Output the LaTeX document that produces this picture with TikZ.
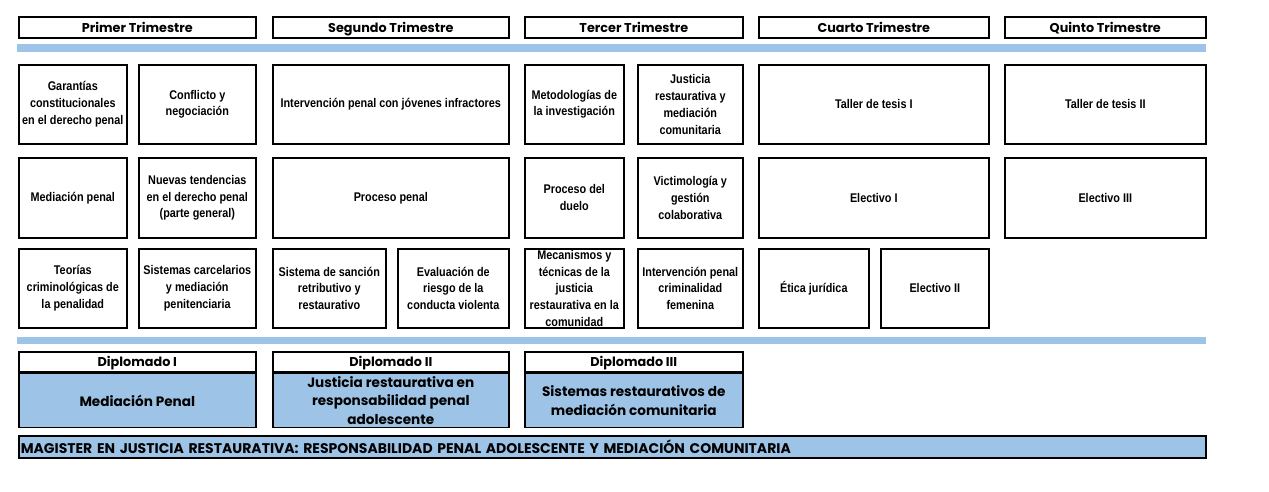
\documentclass[tikz,border=0pt]{standalone}
\usepackage{fontspec}
\setmainfont{Liberation Sans}
\newfontfamily\narrowfont[FakeStretch=0.86]{Liberation Sans}
\newfontfamily\gothicfont{Poppins}
\definecolor{barblue}{HTML}{9DC3E6}

\tikzset{
  curso/.style={draw,line width=1.6pt,anchor=north west,align=center,
    inner sep=0pt,font=\narrowfont\bfseries\fontsize{12.6}{16.8}\selectfont},
  trimestre/.style={curso,text height=9.5,text depth=0,
    font=\gothicfont\bfseries\fontsize{12.8}{14}\selectfont},
  diplotitulo/.style={trimestre,fill=white},
  diplocuerpo/.style={curso,fill=barblue,font=\gothicfont\bfseries\fontsize{13.6}{18.5}\selectfont},
  separador/.style={fill=barblue,draw=none},
}

\begin{document}
\begin{tikzpicture}[x=1pt,y=-1pt]
  \useasboundingbox[fill=white] (0,0) rectangle (1269,491);
  % trimestres
  \node[trimestre,minimum width=237,minimum height=21] (t1) at (18,16) {Primer Trimestre};
  \node[trimestre,minimum width=236,minimum height=21] (t2) at (272,16) {Segundo Trimestre};
  \node[trimestre,minimum width=218,minimum height=21] (t3) at (524,16) {Tercer Trimestre};
  \node[trimestre,minimum width=230,minimum height=21] (t4) at (758,16) {Cuarto Trimestre};
  \node[trimestre,minimum width=201,minimum height=21] (t5) at (1004,16) {Quinto Trimestre};
  \fill[separador] (17,44) rectangle (1206,52);

  % fila 1
  \node[curso,minimum width=108,minimum height=79] (garantias) at (18,64)
    {Garantías\\constitucionales\\en el derecho penal};
  \node[curso,minimum width=117,minimum height=79] (conflicto) at (138,64)
    {Conflicto y\\negociación};
  \node[curso,minimum width=236,minimum height=79] (jovenes) at (272,64)
    {Intervención penal con jóvenes infractores};
  \node[curso,minimum width=99,minimum height=79] (metodologias) at (524,64)
    {Metodologías de\\la investigación};
  \node[curso,minimum width=105,minimum height=79] (justicia) at (637,64)
    {Justicia\\restaurativa y\\mediación\\comunitaria};
  \node[curso,minimum width=230,minimum height=79] (tesis1) at (758,64)
    {Taller de tesis I};
  \node[curso,minimum width=201,minimum height=79] (tesis2) at (1004,64)
    {Taller de tesis II};

  % fila 2
  \node[curso,minimum width=108,minimum height=80] (mediacion) at (18,157)
    {Mediación penal};
  \node[curso,minimum width=117,minimum height=80] (tendencias) at (138,157)
    {Nuevas tendencias\\en el derecho penal\\(parte general)};
  \node[curso,minimum width=236,minimum height=80] (proceso) at (272,157)
    {Proceso penal};
  \node[curso,minimum width=99,minimum height=80] (duelo) at (524,157)
    {Proceso del\\duelo};
  \node[curso,minimum width=105,minimum height=80] (victimologia) at (637,157)
    {Victimología y\\gestión\\colaborativa};
  \node[curso,minimum width=230,minimum height=80] (electivo1) at (758,157)
    {Electivo I};
  \node[curso,minimum width=201,minimum height=80] (electivo3) at (1004,157)
    {Electivo III};

  % fila 3
  \node[curso,minimum width=108,minimum height=79] (teorias) at (18,248)
    {Teorías\\criminológicas de\\la penalidad};
  \node[curso,minimum width=117,minimum height=79] (carcelarios) at (138,248)
    {Sistemas carcelarios\\y mediación\\penitenciaria};
  \node[curso,minimum width=113,minimum height=79] (sancion) at (272,248)
    {Sistema de sanción\\retributivo y\\restaurativo};
  \node[curso,minimum width=111,minimum height=79] (riesgo) at (397,248)
    {Evaluación de\\riesgo de la\\conducta violenta};
  \node[curso,minimum width=99,minimum height=79] (mecanismos) at (524,248)
    {Mecanismos y\\técnicas de la\\justicia\\restaurativa en la\\comunidad};
  \node[curso,minimum width=105,minimum height=79] (femenina) at (637,248)
    {Intervención penal\\criminalidad\\femenina};
  \node[curso,minimum width=110,minimum height=79] (etica) at (758,248)
    {Ética jurídica};
  \node[curso,minimum width=108,minimum height=79] (electivo2) at (880,248)
    {Electivo II};
  \fill[separador] (17,337) rectangle (1206,344);

  % diplomados
  \node[diplotitulo,minimum width=237,minimum height=20] (d1) at (18,351) {Diplomado I};
  \node[diplocuerpo,minimum width=237,minimum height=54] (d1c) at (d1.south west)
    {Mediación Penal};
  \node[diplotitulo,minimum width=236,minimum height=20] (d2) at (272,351) {Diplomado II};
  \node[diplocuerpo,minimum width=236,minimum height=54] (d2c) at (d2.south west)
    {Justicia restaurativa en\\responsabilidad penal\\adolescente};
  \node[diplotitulo,minimum width=218,minimum height=20] (d3) at (524,351) {Diplomado III};
  \node[diplocuerpo,minimum width=218,minimum height=54] (d3c) at (d3.south west)
    {Sistemas restaurativos de\\mediación comunitaria};

  % magister
  \node[curso,fill=barblue,minimum width=1187,minimum height=22,text width=1183,
    align=left,font=\gothicfont\bfseries\fontsize{14}{15}\selectfont] (magister) at (18,435)
    {MAGISTER EN JUSTICIA RESTAURATIVA: RESPONSABILIDAD PENAL ADOLESCENTE Y MEDIACIÓN COMUNITARIA};
\end{tikzpicture}
\end{document}
